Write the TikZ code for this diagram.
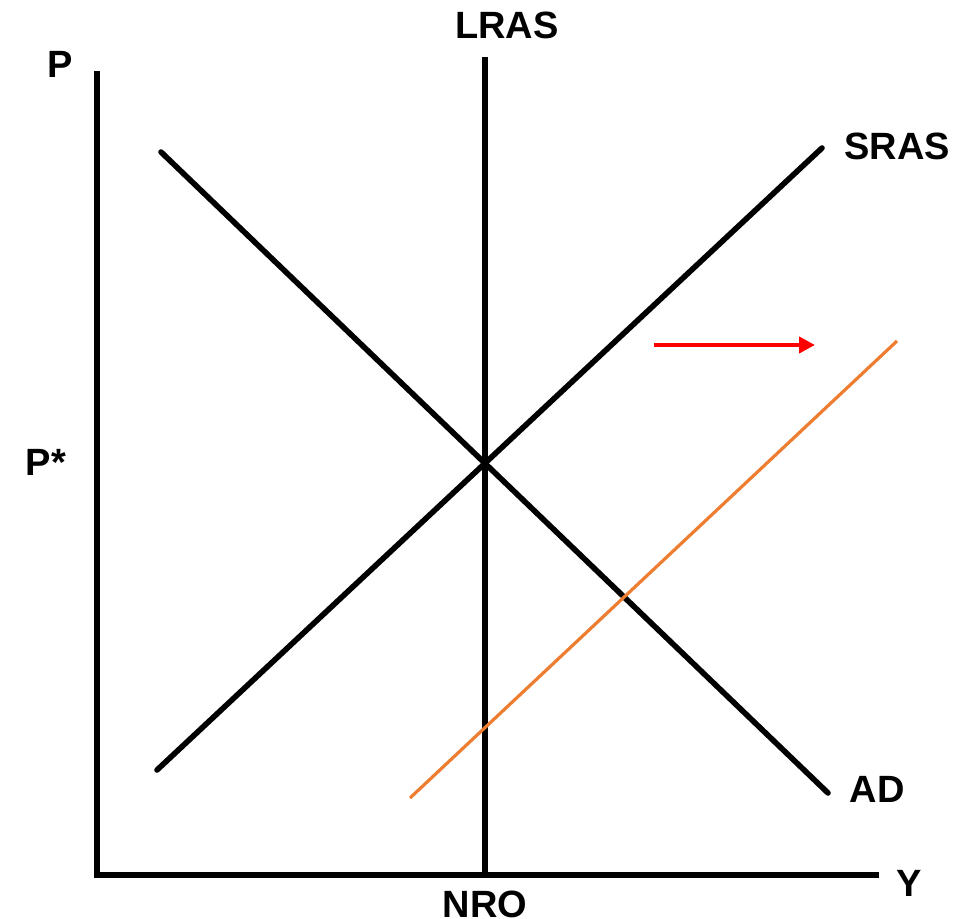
\documentclass[tikz,border=0pt]{standalone}
\usepackage{fontspec}
\setmainfont{Liberation Sans}
\usetikzlibrary{arrows.meta}
\definecolor{shiftorange}{RGB}{237,125,49}
\definecolor{arrowred}{RGB}{255,0,0}
\begin{document}
\begin{tikzpicture}[x=0.75pt,y=-0.75pt,
  lbl/.style={inner sep=0pt,font=\fontsize{28.5}{31}\selectfont\bfseries},
  axisline/.style={line width=5.2pt,line cap=rect},
  curve/.style={line width=4.2pt,line cap=round},
  shifted/.style={line width=2.4pt,draw=shiftorange},
  move/.style={line width=3pt,draw=arrowred,-{Triangle[length=12pt,width=12pt]}}]
\useasboundingbox (0,0) rectangle (956,919);
% axes
\coordinate (top) at (97,74);
\coordinate (origin) at (97,875);
\coordinate (xend) at (876,875);
\draw[axisline] (top) -- (origin) -- (xend);
% LRAS
\coordinate (lrasT) at (485,57);
\coordinate (lrasB) at (485,875);
\draw[line width=4.2pt] (lrasT) -- (lrasB);
% AD
\coordinate (adA) at (161,152);
\coordinate (adB) at (828,793);
\draw[curve] (adA) -- (adB);
% SRAS
\coordinate (srA) at (157,770);
\coordinate (srB) at (822,148);
\draw[curve] (srA) -- (srB);
% shifted SRAS
\coordinate (orA) at (410,798);
\coordinate (orB) at (897,341);
\draw[shifted] (orA) -- (orB);
% red arrow
\coordinate (arA) at (654,345);
\coordinate (arB) at (815,345);
\draw[move] (arA) -- (arB);
% labels
\node[lbl] (lP) at (60,64) {P};
\node[lbl] (lLRAS) at (507,25) {LRAS};
\node[lbl] (lSRAS) at (897,146) {SRAS};
\node[lbl] (lAD) at (877,789) {AD};
\node[lbl] (lY) at (909,883) {Y};
\node[lbl] (lNRO) at (485,904) {NRO};
\node[lbl] (lPs) at (46,462) {P*};
\end{tikzpicture}
\end{document}
